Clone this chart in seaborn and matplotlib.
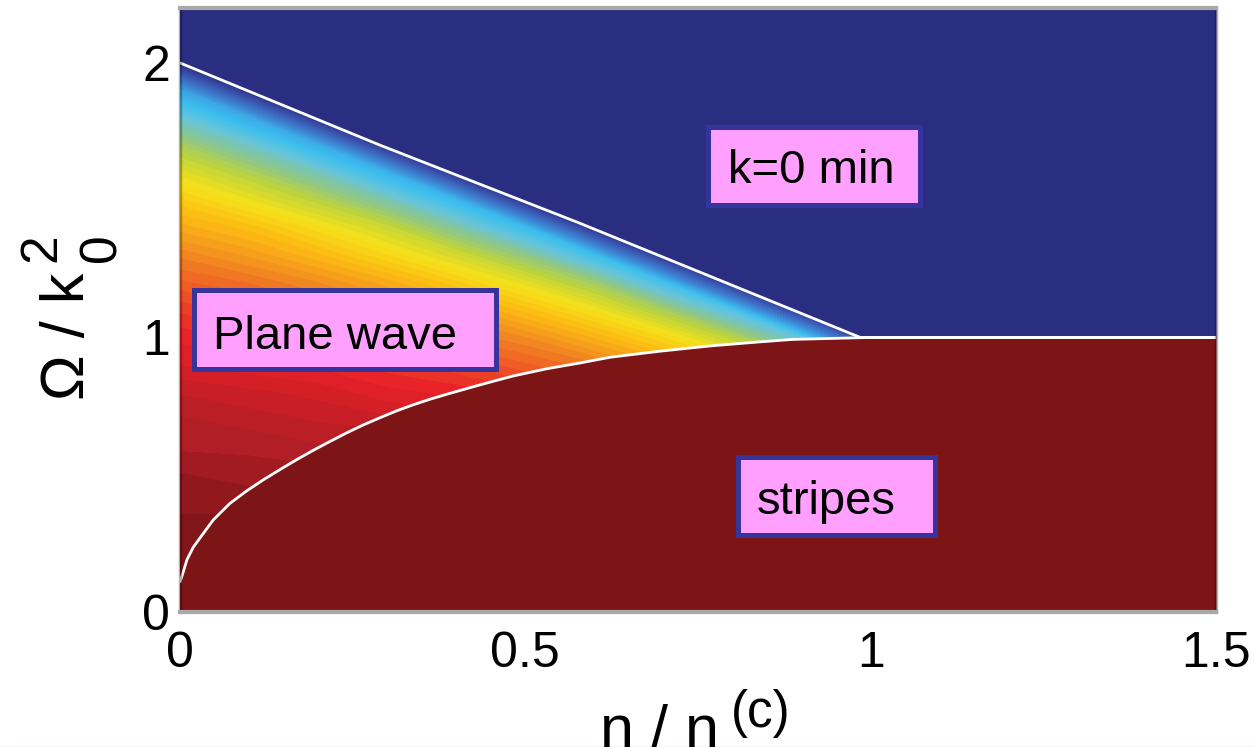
import numpy as np
import matplotlib
matplotlib.use("Agg")
import matplotlib.pyplot as plt
import seaborn as sns
from matplotlib.colors import LinearSegmentedColormap
from matplotlib.patches import Rectangle
from matplotlib.lines import Line2D

# ---------------- data ----------------
N_GRID = [0.0, 0.1, 0.2, 0.3, 0.4, 0.5, 0.6, 0.7, 0.8, 0.9, 1.0]
OMEGA_GRID = [0.0, 0.1, 0.2, 0.3, 0.4, 0.5, 0.6, 0.7, 0.8, 0.9, 1.0,
              1.1, 1.2, 1.3, 1.4, 1.5, 1.6, 1.7, 1.8, 1.9, 2.0, 2.1, 2.2]
# colour value (k / k0) of the plane-wave phase; rows = Omega, columns = n
K_TABLE = [
    [1.00, 1.00, 1.00, 1.00, 1.00, 1.00, 1.00, 1.00, 1.00, 1.00, 1.00],
    [1.00, 1.00, 1.00, 1.00, 1.00, 1.00, 1.00, 1.00, 1.00, 1.00, 0.99],
    [0.99, 0.99, 0.99, 0.99, 0.99, 0.99, 0.99, 0.99, 0.99, 0.98, 0.98],
    [0.99, 0.99, 0.99, 0.98, 0.98, 0.98, 0.98, 0.97, 0.97, 0.96, 0.95],
    [0.98, 0.98, 0.97, 0.97, 0.97, 0.96, 0.96, 0.95, 0.94, 0.93, 0.92],
    [0.97, 0.96, 0.96, 0.96, 0.95, 0.94, 0.93, 0.92, 0.91, 0.89, 0.87],
    [0.95, 0.95, 0.94, 0.94, 0.93, 0.92, 0.90, 0.89, 0.87, 0.84, 0.80],
    [0.94, 0.93, 0.92, 0.91, 0.90, 0.88, 0.87, 0.84, 0.81, 0.77, 0.71],
    [0.92, 0.91, 0.90, 0.88, 0.87, 0.85, 0.82, 0.79, 0.75, 0.69, 0.60],
    [0.89, 0.88, 0.87, 0.85, 0.83, 0.80, 0.77, 0.72, 0.66, 0.58, 0.44],
    [0.87, 0.85, 0.83, 0.81, 0.78, 0.75, 0.70, 0.64, 0.55, 0.42, 0.00],
    [0.84, 0.82, 0.79, 0.76, 0.73, 0.68, 0.62, 0.53, 0.40, 0.00, -0.35],
    [0.80, 0.78, 0.75, 0.71, 0.66, 0.60, 0.52, 0.38, 0.00, -0.35, -0.35],
    [0.76, 0.73, 0.69, 0.64, 0.58, 0.50, 0.37, 0.00, -0.35, -0.35, -0.35],
    [0.71, 0.68, 0.63, 0.57, 0.48, 0.36, 0.00, -0.35, -0.35, -0.35, -0.35],
    [0.66, 0.61, 0.55, 0.47, 0.35, 0.00, -0.35, -0.35, -0.35, -0.35, -0.35],
    [0.60, 0.54, 0.46, 0.34, 0.00, -0.35, -0.35, -0.35, -0.35, -0.35, -0.35],
    [0.53, 0.45, 0.33, 0.00, -0.35, -0.35, -0.35, -0.35, -0.35, -0.35, -0.35],
    [0.44, 0.32, 0.00, -0.35, -0.35, -0.35, -0.35, -0.35, -0.35, -0.35, -0.35],
    [0.31, 0.00, -0.35, -0.35, -0.35, -0.35, -0.35, -0.35, -0.35, -0.35, -0.35],
    [0.00, -0.35, -0.35, -0.35, -0.35, -0.35, -0.35, -0.35, -0.35, -0.35, -0.35],
    [-0.35, -0.35, -0.35, -0.35, -0.35, -0.35, -0.35, -0.35, -0.35, -0.35, -0.35],
    [-0.35, -0.35, -0.35, -0.35, -0.35, -0.35, -0.35, -0.35, -0.35, -0.35, -0.35],
]
# plane wave / k=0 boundary
UPPER_N = [0.0, 0.29, 0.575, 0.985, 1.5]
UPPER_OMEGA = [2.0, 1.70, 1.42, 1.0, 1.0]
# stripes / plane wave boundary
LOWER_N = [0.0, 0.004, 0.010, 0.019, 0.029, 0.048, 0.072, 0.097, 0.121,
           0.145, 0.169, 0.193, 0.217, 0.241, 0.265, 0.290, 0.314, 0.338,
           0.362, 0.386, 0.410, 0.434, 0.459, 0.483, 0.531, 0.579, 0.623,
           0.695, 0.767, 0.840, 0.888, 1.0, 1.5]
LOWER_OMEGA = [0.11, 0.14, 0.19, 0.235, 0.27, 0.335, 0.395, 0.442, 0.482,
               0.519, 0.555, 0.589, 0.621, 0.652, 0.681, 0.708, 0.733, 0.755,
               0.775, 0.793, 0.810, 0.827, 0.844, 0.860, 0.886, 0.907, 0.928,
               0.950, 0.969, 0.984, 0.993, 1.0, 1.0]

X_TICKS = [0, 0.5, 1, 1.5]
X_TICK_LABELS = ["0", "0.5", "1", "1.5"]
Y_TICKS = [0, 1, 2]
Y_TICK_LABELS = ["0", "1", "2"]
REGION_LABELS = ["k=0 min", "Plane wave", "stripes"]

# ---------------- style ----------------
sns.set_theme(style="white")
plt.rcParams["font.family"] = ["Liberation Sans", "DejaVu Sans"]

NAVY = "#2A2E80"
DARKRED = "#7D1416"
PINK = "#FFA0FF"
BORDER = "#36339C"

cmap = LinearSegmentedColormap.from_list("jetlike", [
    (0.00, NAVY), (0.12, "#3A56B0"), (0.25, "#3D88D6"), (0.37, "#3BBFEF"),
    (0.44, "#6AC5D6"), (0.50, "#8DC68A"), (0.56, "#BFD43A"), (0.625, "#F6E11A"),
    (0.69, "#FCBB12"), (0.75, "#F39020"), (0.81, "#EF5A24"), (0.875, "#E82028"),
    (0.95, "#B01E25"), (1.00, DARKRED)])
cmap.set_under(NAVY)
cmap.set_over(DARKRED)

W, H = 1254, 747
fig = plt.figure(figsize=(W / 100, H / 100), dpi=100)
fig.patch.set_facecolor("white")
ax = fig.add_axes([180 / W, 1 - 612 / H, 1036 / W, 604 / H])

YMAX = 2.2
ax.contourf(N_GRID, OMEGA_GRID, np.array(K_TABLE), levels=np.linspace(0, 1, 65),
            cmap=cmap, extend="both", zorder=1)
ax.fill_between(UPPER_N, UPPER_OMEGA, YMAX, color=NAVY, lw=0, zorder=2)
ax.fill_between(LOWER_N, 0, LOWER_OMEGA, color=DARKRED, lw=0, zorder=2)
sns.lineplot(x=UPPER_N, y=UPPER_OMEGA, color="white", lw=2.0, ax=ax,
             estimator=None, sort=False, zorder=3)
sns.lineplot(x=LOWER_N, y=LOWER_OMEGA, color="white", lw=2.0, ax=ax,
             estimator=None, sort=False, zorder=3)

ax.set_xlim(0, 1.5)
ax.set_ylim(0, YMAX)
ax.set_xticks(X_TICKS)
ax.set_xticklabels(X_TICK_LABELS)
ax.set_yticks(Y_TICKS)
ax.set_yticklabels(Y_TICK_LABELS)
ax.tick_params(axis="x", length=0, labelsize=36, pad=14, labelcolor="black")
ax.tick_params(axis="y", length=0, labelsize=36, pad=7, labelcolor="black")
ax.set_xlabel("")
ax.set_ylabel("")
ax.grid(False)
for s in ["top", "bottom"]:
    ax.spines[s].set_color("#A9A9A9")
    ax.spines[s].set_linewidth(3)
for s in ["left", "right"]:
    ax.spines[s].set_color((0, 0, 0, 0.3))
    ax.spines[s].set_linewidth(2.5)
for s in ax.spines.values():
    s.set_zorder(6)

# region label boxes (outer edge in pixels -> data)
def px2data(px, py):
    return (px - 180) / 690.7, (612 - py) / 274.5

def box(x0, y0, x1, y1):
    a = px2data(x0 + 2.5, y1 - 2.5)
    b = px2data(x1 - 2.5, y0 + 2.5)
    ax.add_patch(Rectangle(a, b[0] - a[0], b[1] - a[1], facecolor=PINK,
                           edgecolor=BORDER, lw=3.6, zorder=4))

box(706, 125, 923, 208)
box(192, 288, 499, 372)
box(736, 455, 938, 538)
for label, (px, py) in zip(REGION_LABELS, [(728, 183), (213, 349), (757, 514)]):
    ax.text(*px2data(px, py), label, ha="left", va="baseline", fontsize=34,
            color="black", zorder=5)

# axis labels
def fx(px):
    return px / W

def fy(py):
    return 1 - py / H

ykw = dict(rotation=90, rotation_mode="anchor", ha="left", va="baseline", color="black")
fig.text(fx(84), fy(400), "Ω / k", fontsize=44, **ykw)
fig.text(fx(55), fy(262), "2", fontsize=37, **ykw)
fig.text(fx(115), fy(262), "0", fontsize=37, **ykw)

fig.text(fx(600), fy(748), "n / n", fontsize=44, ha="left", va="baseline", color="black")
fig.text(fx(731), fy(727), "(c)", fontsize=37, ha="left", va="baseline", color="black")

fig.add_artist(Line2D([0, 1], [fy(746.5), fy(746.5)], color="#BDBDE6", lw=1.0,
                      transform=fig.transFigure))

fig.savefig("out.png", dpi=100)
